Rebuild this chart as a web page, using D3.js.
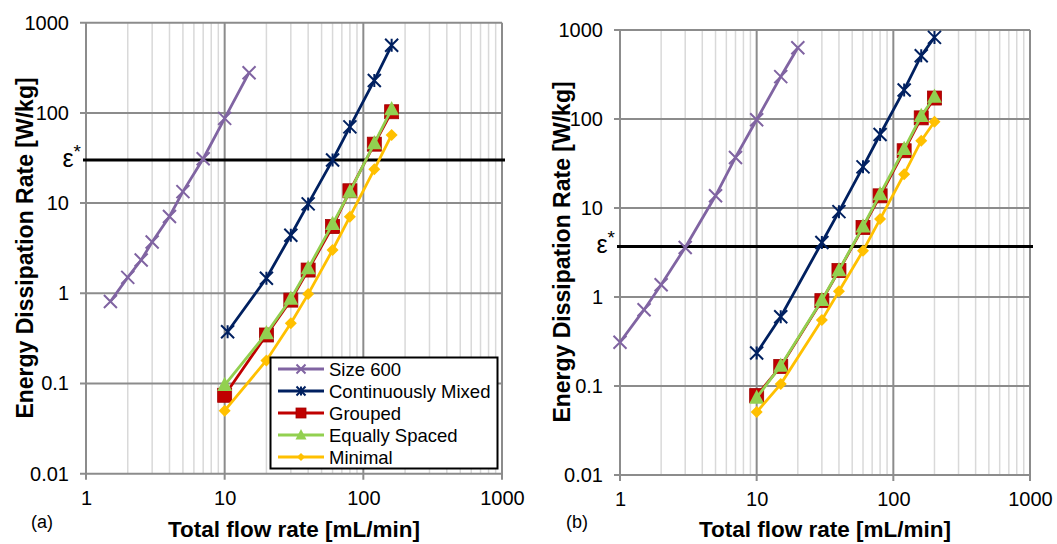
<!DOCTYPE html>
<html>
<head>
<meta charset="UTF-8">
<title>Energy Dissipation Rate vs Total flow rate</title>
<script src="https://d3js.org/d3.v7.min.js"></script>
<style>
    body { margin: 0; padding: 0; background: #fff; }
    svg { display: block; }
    text { font-family: Arial, "Liberation Sans", sans-serif; fill: #000; }
</style>
</head>
<body>
<script>
    // Noms des séries et couleurs
    var seriesNames = ["Size 600", "Continuously Mixed", "Grouped", "Equally Spaced", "Minimal"];
    var seriesColors = ["#8064a2", "#002060", "#c00000", "#92d050", "#ffc000"];
    var seriesMarkers = ["x", "star", "square", "triangle", "diamond"];

    var xTicks = [1, 10, 100, 1000];
    var yTicks = [0.01, 0.1, 1, 10, 100, 1000];

    // Panneau (a)
    var aSizeX = [1.5, 2, 2.5, 3, 4, 5, 7, 10, 15];
    var aSizeY = [0.81, 1.5, 2.34, 3.7, 7.1, 13.4, 31, 87, 279];
    var aMixedX = [10.5, 20, 30, 40, 60, 80, 120, 160];
    var aMixedY = [0.375, 1.47, 4.4, 9.8, 30, 70, 229, 562];
    var aFlowX = [10, 20, 30, 40, 60, 80, 120, 160];
    var aGroupedY = [0.074, 0.345, 0.84, 1.81, 5.5, 13.7, 45, 103];
    var aSpacedY = [0.096, 0.36, 0.87, 1.89, 5.85, 13.4, 46, 110];
    var aMinimalY = [0.05, 0.18, 0.465, 0.98, 3.02, 7.07, 23.7, 57];
    var aEps = 30;

    // Panneau (b)
    var bSizeX = [1, 1.5, 2, 3, 5, 7, 10, 15, 20];
    var bSizeY = [0.31, 0.72, 1.37, 3.6, 13.7, 37, 98, 299, 632];
    var bFlowX = [10, 15, 30, 40, 60, 80, 120, 160, 200];
    var bMixedY = [0.235, 0.6, 4.1, 9.1, 29, 67, 212, 514, 826];
    var bGroupedY = [0.078, 0.166, 0.91, 1.98, 6.05, 13.7, 44, 103, 172];
    var bSpacedY = [0.074, 0.169, 0.925, 2.0, 6.2, 14.3, 46, 108, 178];
    var bMinimalY = [0.051, 0.105, 0.55, 1.16, 3.3, 7.5, 24, 57, 93];
    var bEps = 3.7;

    var svg = d3.select("body").append("svg")
        .attr("width", 1057)
        .attr("height", 544);

    function zip(xs, ys) {
        return xs.map(function(x, i) { return [x, ys[i]]; });
    }

    // Dessine un marqueur centré en (0,0)
    function drawMarker(g, type, color, s) {
        if (type === "x" || type === "star") {
            g.append("path")
                .attr("d", "M" + (-s) + "," + (-s) + "L" + s + "," + s + "M" + (-s) + "," + s + "L" + s + "," + (-s) +
                    (type === "star" ? "M0," + (-s) + "L0," + s : ""))
                .attr("stroke", color).attr("stroke-width", 2).attr("fill", "none");
        } else if (type === "square") {
            g.append("rect")
                .attr("x", -s).attr("y", -s).attr("width", 2 * s).attr("height", 2 * s)
                .attr("fill", color).attr("stroke", "#a00000").attr("stroke-width", 0.8);
        } else if (type === "triangle") {
            g.append("path")
                .attr("d", "M0," + (-s * 1.1) + "L" + s + "," + (s * 0.8) + "L" + (-s) + "," + (s * 0.8) + "Z")
                .attr("fill", color);
        } else if (type === "diamond") {
            g.append("path")
                .attr("d", "M0," + (-s) + "L" + s + ",0L0," + s + "L" + (-s) + ",0Z")
                .attr("fill", color);
        }
    }

    function drawPanel(cfg) {
        var x = d3.scaleLog().domain([1, 1000]).range([cfg.x0, cfg.x1]);
        var y = d3.scaleLog().domain([0.01, 1000]).range([cfg.y1, cfg.y0]);
        var g = svg.append("g");

        // Grille secondaire verticale
        g.selectAll(".minor").data(x.ticks().filter(function(d) { return xTicks.indexOf(d) < 0; }))
            .join("line")
            .attr("x1", function(d) { return x(d); }).attr("x2", function(d) { return x(d); })
            .attr("y1", cfg.y0).attr("y2", cfg.y1)
            .attr("stroke", "#d9d9d9").attr("stroke-width", 1.5);

        // Grille principale
        g.selectAll(".vmaj").data(xTicks).join("line")
            .attr("x1", function(d) { return x(d); }).attr("x2", function(d) { return x(d); })
            .attr("y1", cfg.y0).attr("y2", cfg.y1 + 6)
            .attr("stroke", "#8c8c8c").attr("stroke-width", 2);
        g.selectAll(".hmaj").data(yTicks).join("line")
            .attr("x1", cfg.x0 - 6).attr("x2", cfg.x1)
            .attr("y1", function(d) { return y(d); }).attr("y2", function(d) { return y(d); })
            .attr("stroke", "#8c8c8c").attr("stroke-width", 2);

        // Axes (étiquettes seulement)
        var fmt = d3.format("~g");
        var xa = g.append("g").attr("transform", "translate(0," + cfg.y1 + ")")
            .call(d3.axisBottom(x).tickValues(xTicks).tickFormat(fmt).tickSize(0).tickPadding(22));
        var ya = g.append("g").attr("transform", "translate(" + cfg.x0 + ",0)")
            .call(d3.axisLeft(y).tickValues(yTicks).tickFormat(fmt).tickSize(0).tickPadding(17));
        [xa, ya].forEach(function(a) {
            a.select(".domain").remove();
            a.selectAll("text").style("font-size", "20px").attr("fill", "#000");
        });
        xa.selectAll("text").attr("dy", null).attr("y", 31);

        // Ligne epsilon*
        g.append("line")
            .attr("x1", cfg.x0 - 3).attr("x2", cfg.x1 + 3)
            .attr("y1", y(cfg.eps)).attr("y2", y(cfg.eps))
            .attr("stroke", "#000").attr("stroke-width", 3);
        var eps = g.append("text")
            .attr("x", cfg.x0 - 5).attr("y", y(cfg.eps) + 7)
            .attr("text-anchor", "end").style("font-size", "25px");
        eps.append("tspan").text("ε");
        eps.append("tspan").attr("dy", -9).style("font-size", "19px").text("*");

        // Séries
        var line = d3.line().x(function(d) { return x(d[0]); }).y(function(d) { return y(d[1]); });
        var sizes = [6.5, 6.5, 7, 7.5, 6];
        cfg.series.forEach(function(data, i) {
            g.append("path").datum(data)
                .attr("d", line)
                .attr("fill", "none")
                .attr("stroke", seriesColors[i])
                .attr("stroke-width", 2.8);
            data.forEach(function(d) {
                var m = g.append("g").attr("transform", "translate(" + x(d[0]) + "," + y(d[1]) + ")");
                drawMarker(m, seriesMarkers[i], seriesColors[i], sizes[i]);
            });
        });

        // Titres des axes
        g.append("text")
            .attr("x", (cfg.x0 + cfg.x1) / 2).attr("y", 537)
            .attr("text-anchor", "middle")
            .style("font-size", "22.5px").style("font-weight", "bold")
            .text("Total flow rate [mL/min]");
        g.append("text")
            .attr("transform", "translate(" + cfg.titleX + "," + cfg.titleY + ") rotate(-90)")
            .attr("text-anchor", "middle")
            .style("font-size", "23px").style("font-weight", "bold")
            .text("Energy Dissipation Rate [W/kg]");
        g.append("text")
            .attr("x", cfg.tagX).attr("y", 528)
            .style("font-size", "18px")
            .text(cfg.tag);
    }

    drawPanel({
        x0: 86, x1: 502, y0: 22.7, y1: 473.7, eps: aEps,
        titleX: 33, titleY: 248, tag: "(a)", tagX: 31,
        series: [zip(aSizeX, aSizeY), zip(aMixedX, aMixedY), zip(aFlowX, aGroupedY),
                 zip(aFlowX, aSpacedY), zip(aFlowX, aMinimalY)]
    });

    drawPanel({
        x0: 620, x1: 1030, y0: 30, y1: 475, eps: bEps,
        titleX: 570, titleY: 252, tag: "(b)", tagX: 566,
        series: [zip(bSizeX, bSizeY), zip(bFlowX, bMixedY), zip(bFlowX, bGroupedY),
                 zip(bFlowX, bSpacedY), zip(bFlowX, bMinimalY)]
    });

    // Légende du panneau (a)
    var legend = svg.append("g");
    legend.append("rect")
        .attr("x", 270.5).attr("y", 357.5).attr("width", 227).attr("height", 111)
        .attr("fill", "#fff").attr("stroke", "#000").attr("stroke-width", 2);
    var legSizes = [4.5, 4.5, 5, 5.5, 4];
    seriesNames.forEach(function(name, i) {
        var ly = 369 + i * 22;
        legend.append("line")
            .attr("x1", 278).attr("x2", 324).attr("y1", ly).attr("y2", ly)
            .attr("stroke", seriesColors[i]).attr("stroke-width", 2.8);
        var m = legend.append("g").attr("transform", "translate(301," + ly + ")");
        drawMarker(m, seriesMarkers[i], seriesColors[i], legSizes[i]);
        legend.append("text")
            .attr("x", 329).attr("y", ly + 6.5)
            .style("font-size", "18.5px")
            .text(name);
    });
</script>
</body>
</html>
